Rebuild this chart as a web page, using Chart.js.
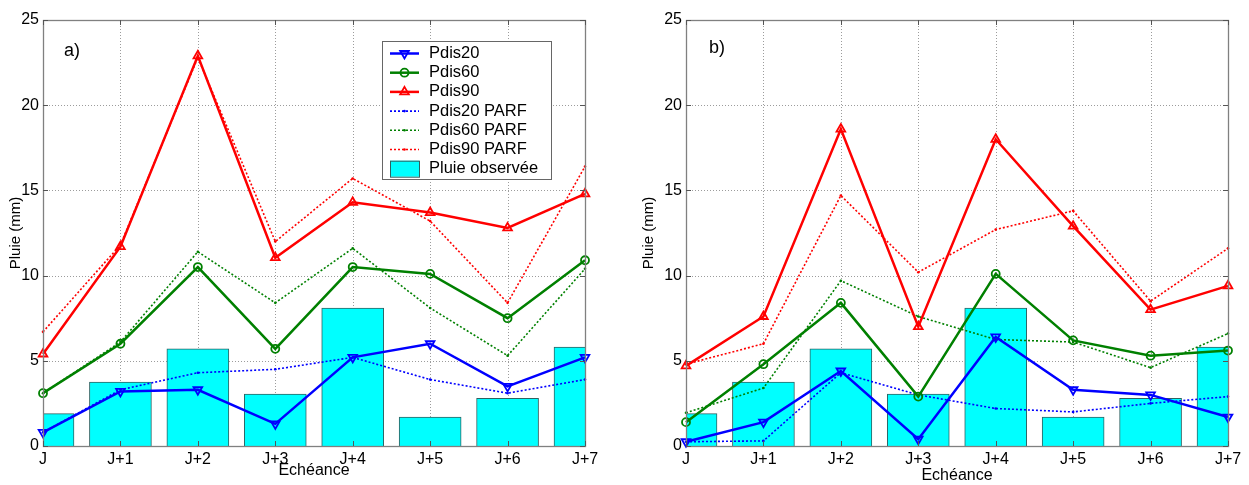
<!DOCTYPE html>
<html><head><meta charset="utf-8">
<script src="https://cdn.jsdelivr.net/npm/chart.js@4"></script>
<style>
html,body{margin:0;padding:0;background:#fff;}
#wrap{position:relative;width:1249px;height:485px;overflow:hidden;}
canvas{position:absolute;top:0;}
</style>
</head><body>
<div id="wrap">
<canvas id="ca" width="625" height="485" style="left:0px"></canvas>
<canvas id="cb" width="624" height="485" style="left:625px"></canvas>
</div>
<script>
const FONT = "'Liberation Sans', Arial, Helvetica, sans-serif";

// ---- data ----
const categories = ['J', 'J+1', 'J+2', 'J+3', 'J+4', 'J+5', 'J+6', 'J+7'];
const seriesLabels = ['Pdis20', 'Pdis60', 'Pdis90', 'Pdis20 PARF', 'Pdis60 PARF', 'Pdis90 PARF', 'Pluie observée'];
const pluieObservee = [1.9, 3.75, 5.7, 3.05, 8.1, 1.7, 2.8, 5.8];

// panel a)
const aPdis20     = [0.8, 3.2, 3.3, 1.3, 5.2, 6.0, 3.5, 5.2];
const aPdis60     = [3.1, 6.0, 10.5, 5.7, 10.5, 10.1, 7.5, 10.9];
const aPdis90     = [5.4, 11.7, 22.9, 11.05, 14.3, 13.7, 12.8, 14.8];
const aPdis20Parf = [0.8, 3.3, 4.3, 4.5, 5.2, 3.9, 3.1, 3.9];
const aPdis60Parf = [3.1, 6.1, 11.4, 8.4, 11.6, 8.1, 5.3, 10.4];
const aPdis90Parf = [6.7, 11.8, 22.8, 12.0, 15.7, 13.2, 8.4, 16.4];

// panel b)
const bPdis20     = [0.25, 1.4, 4.4, 0.4, 6.4, 3.3, 3.0, 1.7];
const bPdis60     = [1.4, 4.8, 8.4, 2.9, 10.1, 6.2, 5.3, 5.6];
const bPdis90     = [4.7, 7.6, 18.6, 7.0, 18.0, 12.9, 8.0, 9.4];
const bPdis20Parf = [0.25, 0.3, 4.3, 3.0, 2.2, 2.0, 2.5, 2.9];
const bPdis60Parf = [1.95, 3.4, 9.7, 7.6, 6.25, 6.1, 4.6, 6.6];
const bPdis90Parf = [4.8, 6.0, 14.7, 10.2, 12.7, 13.8, 8.5, 11.6];

const yMin = 0, yMax = 25, yStep = 5;

// ---- styles ----
const BLUE = '#0000ff', GREEN = '#008000', RED = '#ff0000', CYAN = '#00ffff';
const pts = arr => arr.map((v, i) => ({x: i, y: v}));

function solid(label, arr, color, style, rot) {
  return { type: 'line', label, data: pts(arr), borderColor: color, borderWidth: 2.5,
    pointStyle: style, pointRotation: rot, pointRadius: style === 'circle' ? 4 : 5,
    pointBorderWidth: 1.8, pointBorderColor: color, pointBackgroundColor: 'rgba(0,0,0,0)',
    tension: 0, fill: false, order: 1, clip: false };
}
function dotted(label, arr, color) {
  return { type: 'line', label, data: pts(arr), borderColor: color, borderWidth: 1.6,
    borderDash: [2, 2], pointStyle: 'circle', pointRadius: 1.3, pointBorderWidth: 0,
    pointBackgroundColor: color, tension: 0, fill: false, order: 2, clip: false };
}
function bars(label, arr) {
  return { type: 'bar', label, data: pts(arr), backgroundColor: CYAN, borderColor: '#2f6262',
    borderWidth: 1, barThickness: 62, order: 10, clip: 0 };
}

function drawMarker(ctx, style, rot, r, x, y, color, bw) {
  ctx.save();
  ctx.strokeStyle = color; ctx.lineWidth = bw; ctx.setLineDash([]);
  ctx.beginPath();
  if (style === 'circle') {
    ctx.arc(x, y, r, 0, Math.PI * 2);
  } else {
    let rad = rot * Math.PI / 180;
    ctx.moveTo(x + Math.sin(rad) * r, y - Math.cos(rad) * r);
    rad += 2 * Math.PI / 3;
    ctx.lineTo(x + Math.sin(rad) * r, y - Math.cos(rad) * r);
    rad += 2 * Math.PI / 3;
    ctx.lineTo(x + Math.sin(rad) * r, y - Math.cos(rad) * r);
    ctx.closePath();
  }
  ctx.stroke();
  ctx.restore();
}

const framePlugin = {
  id: 'frame',
  beforeDatasetsDraw(chart) {
    const {ctx, chartArea: a, scales: {x, y}} = chart;
    ctx.save();
    ctx.strokeStyle = '#9c9c9c'; ctx.lineWidth = 1; ctx.setLineDash([1, 2]);
    x.ticks.forEach(t => {
      const px = Math.round(x.getPixelForValue(t.value)) + 0.5;
      ctx.beginPath(); ctx.moveTo(px, a.top); ctx.lineTo(px, a.bottom); ctx.stroke();
    });
    y.ticks.forEach(t => {
      const py = Math.round(y.getPixelForValue(t.value)) + 0.5;
      ctx.beginPath(); ctx.moveTo(a.left, py); ctx.lineTo(a.right, py); ctx.stroke();
    });
    ctx.restore();
  },
  afterDatasetsDraw(chart, args, opts) {
    const {ctx, chartArea: a, scales: {x, y}} = chart;
    ctx.save();
    ctx.setLineDash([]);
    ctx.strokeStyle = '#808080'; ctx.lineWidth = 1.3;
    ctx.strokeRect(Math.round(a.left) + 0.5, Math.round(a.top) + 0.5,
                   Math.round(a.right - a.left), Math.round(a.bottom - a.top));
    // inward ticks
    ctx.strokeStyle = '#555'; ctx.lineWidth = 1;
    const tl = 5;
    x.ticks.forEach(t => {
      const px = Math.round(x.getPixelForValue(t.value)) + 0.5;
      ctx.beginPath();
      ctx.moveTo(px, a.bottom); ctx.lineTo(px, a.bottom - tl);
      ctx.moveTo(px, a.top); ctx.lineTo(px, a.top + tl);
      ctx.stroke();
    });
    y.ticks.forEach(t => {
      const py = Math.round(y.getPixelForValue(t.value)) + 0.5;
      ctx.beginPath();
      ctx.moveTo(a.left, py); ctx.lineTo(a.left + tl, py);
      ctx.moveTo(a.right, py); ctx.lineTo(a.right - tl, py);
      ctx.stroke();
    });
    // panel label
    ctx.fillStyle = '#000'; ctx.font = '18px ' + FONT;
    ctx.textBaseline = 'middle'; ctx.textAlign = 'left';
    ctx.fillText(opts.panel, a.left + opts.panelDx, a.top + opts.panelDy);
    ctx.restore();
  },
  afterDraw(chart, args, opts) {
    if (!opts.legend) return;
    const {ctx} = chart;
    const L = opts.legend;
    ctx.save();
    ctx.fillStyle = '#fff';
    ctx.fillRect(L.x, L.y, L.w, L.h);
    ctx.strokeStyle = '#666'; ctx.lineWidth = 1; ctx.setLineDash([]);
    ctx.strokeRect(L.x + 0.5, L.y + 0.5, L.w, L.h);
    const dsList = chart.data.datasets;
    dsList.forEach((ds, i) => {
      const cy = L.y + L.first + i * L.step;
      const x1 = L.x + 8, x2 = L.x + 37, xm = (x1 + x2) / 2;
      if (ds.type === 'bar') {
        ctx.fillStyle = ds.backgroundColor; ctx.strokeStyle = ds.borderColor; ctx.lineWidth = 1;
        ctx.fillRect(x1, cy - 8, x2 - x1, 16);
        ctx.strokeRect(x1 + 0.5, cy - 8 + 0.5, x2 - x1, 16);
      } else {
        ctx.strokeStyle = ds.borderColor; ctx.lineWidth = ds.borderWidth;
        ctx.setLineDash(ds.borderDash || []);
        ctx.beginPath(); ctx.moveTo(x1, cy); ctx.lineTo(x2, cy); ctx.stroke();
        ctx.setLineDash([]);
        if (ds.borderDash) {
          ctx.fillStyle = ds.borderColor;
          ctx.beginPath(); ctx.arc(xm, cy, 1.3, 0, Math.PI * 2); ctx.fill();
        } else {
          drawMarker(ctx, ds.pointStyle, ds.pointRotation || 0, ds.pointRadius, xm, cy, ds.borderColor, ds.pointBorderWidth);
        }
      }
      ctx.fillStyle = '#000'; ctx.font = '16.5px ' + FONT;
      ctx.textBaseline = 'middle'; ctx.textAlign = 'left';
      ctx.fillText(ds.label, L.x + 47, cy);
    });
    ctx.restore();
  }
};

function makeChart(id, s, cfg) {
  const datasets = [
    solid(seriesLabels[0], s.p20, BLUE, 'triangle', 180),
    solid(seriesLabels[1], s.p60, GREEN, 'circle', 0),
    solid(seriesLabels[2], s.p90, RED, 'triangle', 0),
    dotted(seriesLabels[3], s.p20p, BLUE),
    dotted(seriesLabels[4], s.p60p, GREEN),
    dotted(seriesLabels[5], s.p90p, RED),
    bars(seriesLabels[6], pluieObservee)
  ];
  return new Chart(document.getElementById(id), {
    type: 'line',
    data: { datasets },
    options: {
      responsive: false, animation: false, events: [],
      layout: { padding: { left: 0, right: cfg.padRight, top: 20, bottom: 0 } },
      plugins: {
        legend: { display: false }, tooltip: { enabled: false },
        frame: { panel: cfg.panel, panelDx: cfg.panelDx, panelDy: cfg.panelDy, legend: cfg.legend }
      },
      scales: {
        x: {
          type: 'linear', min: 0, max: categories.length - 1, offset: false,
          afterFit: sc => { sc.height = 39; },
          grid: { display: false, drawTicks: false }, border: { display: false },
          ticks: { stepSize: 1, autoSkip: false, maxRotation: 0, padding: 4, color: '#000',
                   font: { size: 16, family: FONT }, callback: v => categories[v] },
          title: { display: true, text: 'Echéance', color: '#000', font: { size: 16, family: FONT },
                   padding: { top: 0, bottom: cfg.xTitlePad } }
        },
        y: {
          type: 'linear', min: yMin, max: yMax,
          afterFit: sc => { sc.width = cfg.yWidth; },
          grid: { display: false, drawTicks: false }, border: { display: false },
          ticks: { stepSize: yStep, padding: 4, color: '#000', font: { size: 16, family: FONT } },
          title: { display: true, text: 'Pluie (mm)', color: '#000', font: { size: 15, family: FONT },
                   padding: { top: cfg.yTitlePad, bottom: 0 } }
        }
      }
    },
    plugins: [framePlugin]
  });
}

makeChart('ca',
  { p20: aPdis20, p60: aPdis60, p90: aPdis90, p20p: aPdis20Parf, p60p: aPdis60Parf, p90p: aPdis90Parf },
  { padRight: 40, yWidth: 43, yTitlePad: 7, xTitlePad: 5, panel: 'a)', panelDx: 21, panelDy: 31,
    legend: { x: 382, y: 41, w: 169, h: 138, first: 12.5, step: 19.2 } });

makeChart('cb',
  { p20: bPdis20, p60: bPdis60, p90: bPdis90, p20p: bPdis20Parf, p60p: bPdis60Parf, p90p: bPdis90Parf },
  { padRight: 21, yWidth: 61, yTitlePad: 15, xTitlePad: 0, panel: 'b)', panelDx: 23, panelDy: 28,
    legend: null });
</script>
</body></html>
